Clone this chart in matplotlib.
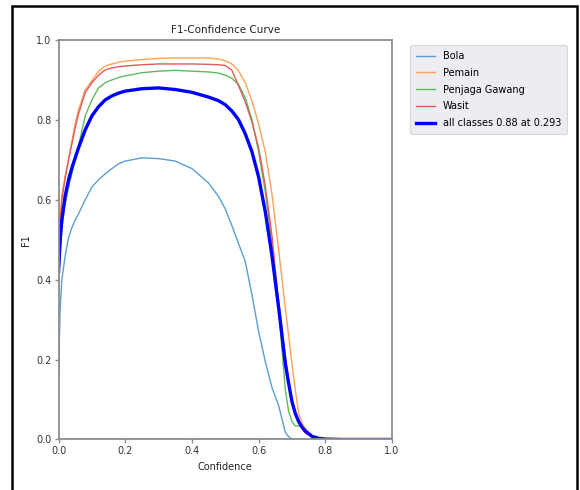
import matplotlib
matplotlib.use("Agg")
import matplotlib.pyplot as plt
from matplotlib.patches import Rectangle

conf = [0.0, 0.005, 0.01, 0.02, 0.03, 0.04, 0.05, 0.06, 0.08, 0.1, 0.12, 0.14, 0.16, 0.18,
        0.2, 0.25, 0.3, 0.35, 0.4, 0.45, 0.48, 0.5, 0.52, 0.54, 0.56, 0.58, 0.6, 0.62,
        0.64, 0.66, 0.68, 0.69, 0.7, 0.71, 0.72, 0.73, 0.74, 0.76, 0.78, 0.8, 0.85, 0.9, 1.0]

f1_bola = [0.17, 0.33, 0.40, 0.46, 0.505, 0.53, 0.55, 0.565, 0.60, 0.632, 0.65, 0.665, 0.678, 0.69,
           0.697, 0.705, 0.703, 0.697, 0.678, 0.642, 0.608, 0.577, 0.535, 0.49, 0.445, 0.362, 0.27, 0.195,
           0.13, 0.085, 0.018, 0.007, 0.001, 0.0, 0.0, 0.0, 0.0, 0.0, 0.0, 0.0, 0.0, 0.0, 0.0]

f1_pemain = [0.45, 0.55, 0.61, 0.66, 0.70, 0.745, 0.79, 0.825, 0.875, 0.898, 0.922, 0.935, 0.94, 0.944,
             0.947, 0.951, 0.954, 0.955, 0.955, 0.955, 0.952, 0.948, 0.94, 0.922, 0.893, 0.848, 0.79, 0.72,
             0.615, 0.475, 0.33, 0.26, 0.19, 0.125, 0.065, 0.042, 0.028, 0.01, 0.003, 0.001, 0.0, 0.0, 0.0]

f1_penjaga = [0.38, 0.47, 0.53, 0.59, 0.63, 0.665, 0.70, 0.735, 0.81, 0.85, 0.88, 0.893, 0.90, 0.906,
              0.91, 0.918, 0.922, 0.924, 0.922, 0.92, 0.917, 0.912, 0.904, 0.888, 0.855, 0.80, 0.72, 0.62,
              0.49, 0.33, 0.125, 0.07, 0.045, 0.034, 0.034, 0.03, 0.02, 0.008, 0.002, 0.0005, 0.0, 0.0, 0.0]

f1_wasit = [0.43, 0.54, 0.60, 0.655, 0.70, 0.74, 0.78, 0.815, 0.868, 0.893, 0.912, 0.925, 0.93, 0.933,
            0.935, 0.938, 0.94, 0.94, 0.94, 0.939, 0.938, 0.936, 0.924, 0.885, 0.845, 0.795, 0.73, 0.635,
            0.51, 0.345, 0.21, 0.15, 0.10, 0.065, 0.042, 0.027, 0.016, 0.006, 0.002, 0.0005, 0.0, 0.0, 0.0]

f1_all = [0.42, 0.50, 0.55, 0.61, 0.65, 0.68, 0.705, 0.73, 0.775, 0.81, 0.833, 0.85, 0.86, 0.867,
          0.872, 0.878, 0.88, 0.876, 0.869, 0.857, 0.848, 0.838, 0.822, 0.80, 0.765, 0.72, 0.657, 0.57,
          0.46, 0.33, 0.19, 0.14, 0.095, 0.065, 0.045, 0.031, 0.021, 0.008, 0.003, 0.001, 0.0, 0.0, 0.0]

class_names = ["Bola", "Pemain", "Penjaga Gawang", "Wasit"]
class_colors = ["#5b9fd0", "#ffa257", "#5fba5f", "#e05a5a"]
all_label = "all classes 0.88 at 0.293"

plt.rcParams['font.family'] = ['DejaVu Sans']
fig = plt.figure(figsize=(5.8, 4.9), dpi=100)
fig.patch.set_facecolor("white")
ax = fig.add_axes([0.1009, 0.1031, 0.575, 0.8153])

for name, vals, col in zip(class_names, [f1_bola, f1_pemain, f1_penjaga, f1_wasit], class_colors):
    ax.plot(conf, vals, color=col, lw=1.0, label=name)
ax.plot(conf, f1_all, color="blue", lw=2.4, label=all_label)

ax.set_xlim(0, 1)
ax.set_ylim(0, 1)
ax.set_xticks([0, 0.2, 0.4, 0.6, 0.8, 1.0])
ax.set_yticks([0, 0.2, 0.4, 0.6, 0.8, 1.0])
ax.set_title("F1-Confidence Curve", fontsize=7.5, color="#222222", pad=5)
ax.set_xlabel("Confidence", fontsize=7, color="#222222", labelpad=4)
ax.set_ylabel("F1", fontsize=7, color="#222222", labelpad=4)
for sp in ax.spines.values():
    sp.set_color("#8c8c8c")
    sp.set_linewidth(1.3)
ax.tick_params(axis="both", labelsize=7, colors="#8c8c8c", labelcolor="#333333",
               length=3, width=1.0, pad=2)

leg = fig.legend(loc="upper left", bbox_to_anchor=(0.707, 0.908), fontsize=7,
                 frameon=True, fancybox=True, labelspacing=0.7, borderpad=0.6,
                 handlelength=2.0, handletextpad=0.8, borderaxespad=0)
leg.get_frame().set_facecolor("#ececf1")
leg.get_frame().set_edgecolor("#d6d6dc")
leg.get_frame().set_alpha(1)
leg.get_frame().set_linewidth(0.8)

fig.add_artist(Rectangle((12 / 580, -0.02), 565 / 580, 1.02 - 6.5 / 490, transform=fig.transFigure,
                         fill=False, edgecolor="black", linewidth=1.8))

fig.savefig("out.png", dpi=100)
